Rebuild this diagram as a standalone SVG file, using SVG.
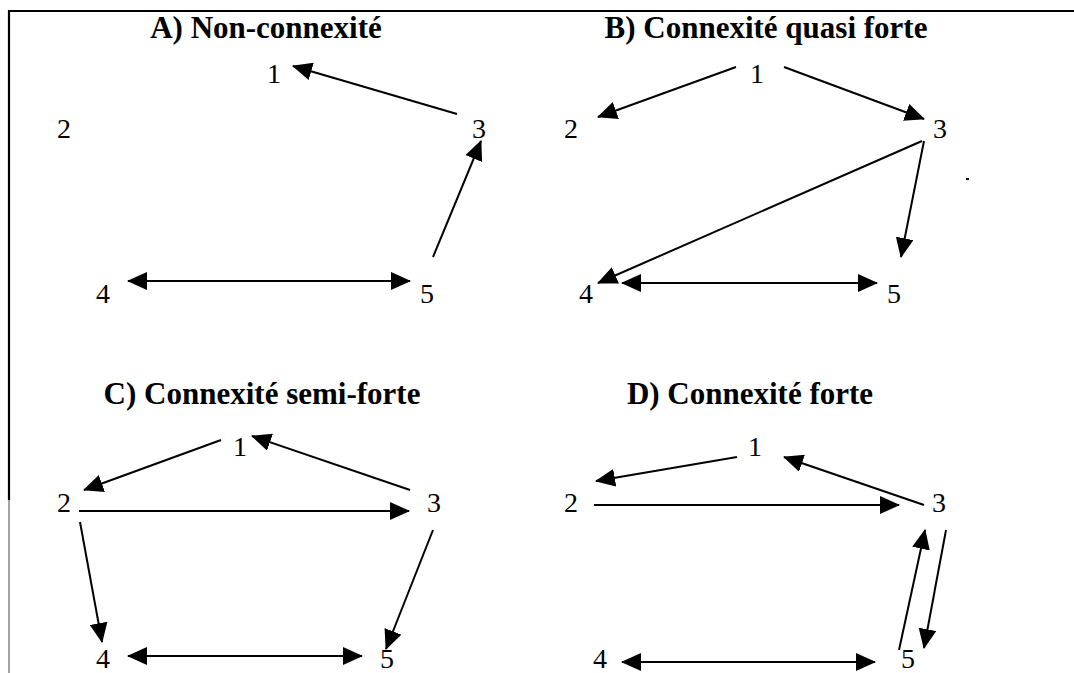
<svg xmlns="http://www.w3.org/2000/svg" width="1074" height="673" viewBox="0 0 1074 673">
<defs>
<marker id="ah" viewBox="0 0 20 18" markerWidth="20" markerHeight="18" refX="19" refY="9" orient="auto-start-reverse" markerUnits="userSpaceOnUse">
<path d="M0,0 L20,9 L0,18 z" fill="#000"/>
</marker>
<style>
.t{font-family:"Liberation Serif","Times New Roman",serif;font-weight:bold;font-size:31px;fill:#000;text-anchor:middle}
.n{font-family:"Liberation Serif","Times New Roman",serif;font-size:28px;fill:#000;text-anchor:middle}
.e{stroke:#000;stroke-width:2;fill:none;marker-end:url(#ah)}
.b{stroke:#000;stroke-width:2;fill:none;marker-start:url(#ah);marker-end:url(#ah)}
</style>
</defs>
<rect width="1074" height="673" fill="#fff"/>
<g id="frame">
<line x1="8" y1="11" x2="1074" y2="11" stroke="#000" stroke-width="2"/>
<line x1="9" y1="10" x2="9" y2="500" stroke="#000" stroke-width="2.2"/>
<line x1="9" y1="500" x2="9" y2="673" stroke="#666" stroke-width="1.2"/>
<rect x="966" y="178" width="3" height="2" fill="#000"/>
</g>
<g id="titles">
<text class="t" x="266" y="38">A) Non-connexité</text>
<text class="t" x="766" y="38">B) Connexité quasi forte</text>
<text class="t" x="262" y="404">C) Connexité semi-forte</text>
<text class="t" x="750" y="404">D) Connexité forte</text>
</g>
<g id="A-nodes">
<text id="A1" class="n" x="274" y="83">1</text>
<text id="A2" class="n" x="64" y="138">2</text>
<text id="A3" class="n" x="479" y="138">3</text>
<text id="A4" class="n" x="103" y="303">4</text>
<text id="A5" class="n" x="427" y="303">5</text>
</g>
<g id="B-nodes">
<text id="B1" class="n" x="757" y="83">1</text>
<text id="B2" class="n" x="571" y="138">2</text>
<text id="B3" class="n" x="940" y="138">3</text>
<text id="B4" class="n" x="586" y="303">4</text>
<text id="B5" class="n" x="894" y="303">5</text>
</g>
<g id="C-nodes">
<text id="C1" class="n" x="240" y="456">1</text>
<text id="C2" class="n" x="64" y="512">2</text>
<text id="C3" class="n" x="434" y="512">3</text>
<text id="C4" class="n" x="103" y="668">4</text>
<text id="C5" class="n" x="387" y="668">5</text>
</g>
<g id="D-nodes">
<text id="D1" class="n" x="755" y="456">1</text>
<text id="D2" class="n" x="571" y="512">2</text>
<text id="D3" class="n" x="939" y="512">3</text>
<text id="D4" class="n" x="600" y="668">4</text>
<text id="D5" class="n" x="908" y="668">5</text>
</g>
<g id="connectors">
<line class="e" x1="457" y1="114" x2="293" y2="66"/>
<line class="e" x1="433" y1="257" x2="481" y2="141"/>
<line class="b" x1="128" y1="281" x2="410" y2="281"/>

<line class="e" x1="736" y1="67" x2="598" y2="117"/>
<line class="e" x1="784" y1="67" x2="924" y2="119"/>
<line class="e" x1="922" y1="141" x2="598" y2="283"/>
<line class="e" x1="924" y1="141" x2="901" y2="257"/>
<line class="b" x1="622" y1="283" x2="877" y2="283"/>

<line class="e" x1="221" y1="440" x2="84" y2="490"/>
<line class="e" x1="410" y1="490" x2="252" y2="436"/>
<line class="e" x1="79" y1="511" x2="409" y2="511"/>
<line class="e" x1="80" y1="522" x2="102" y2="642"/>
<line class="e" x1="433" y1="530" x2="386" y2="649"/>
<line class="b" x1="128" y1="656" x2="362" y2="656"/>

<line class="e" x1="737" y1="457" x2="596" y2="481"/>
<line class="e" x1="924" y1="505" x2="784" y2="457"/>
<line class="e" x1="594" y1="505" x2="899" y2="505"/>
<line class="e" x1="946" y1="530" x2="924" y2="648"/>
<line class="e" x1="899" y1="650" x2="925" y2="530"/>
<line class="b" x1="622" y1="662" x2="875" y2="662"/>
</g>
</svg>
